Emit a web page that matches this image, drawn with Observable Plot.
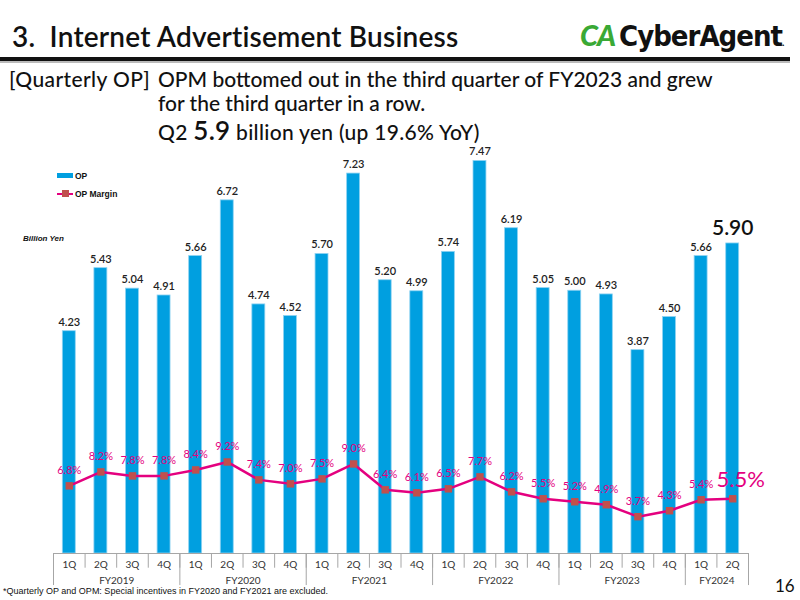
<!DOCTYPE html>
<html>
<head>
<meta charset="utf-8">
<script src="https://cdn.jsdelivr.net/npm/d3@7"></script>
<script src="https://cdn.jsdelivr.net/npm/@observablehq/plot@0.6"></script>
<style>
  html, body { margin: 0; padding: 0; background: #fff; }
  body { width: 800px; height: 600px; position: relative; overflow: hidden; font-family: Lato, "Noto Sans", sans-serif; color: #111; }
  .abs { position: absolute; white-space: nowrap; }
  #chart { position: absolute; left: 0; top: 0; }
</style>
</head>
<body>
<div class="abs" style="left:12px; top:19px; font-size:28px; font-weight:600; letter-spacing:0.2px;">3.&nbsp;&nbsp;Internet Advertisement Business</div>
<div class="abs" style="left:580px; top:17px; font-size:29px; font-weight:900; letter-spacing:-1px;">
  <span style="color:#3aa935; font-style:italic;">CA</span><span style="color:#111; margin-left:4px; font-family:'Liberation Sans Narrow','DejaVu Sans Condensed',sans-serif; font-weight:700;">CyberAgent</span><span style="font-size:10px;">.</span>
</div>
<div class="abs" style="left:0; top:57px; width:790px; height:4px; background:#111;"></div>
<div class="abs" style="left:0; top:61px; width:790px; height:2px; background:#bbb;"></div>
<div class="abs" style="left:9px; top:67px; font-size:21px; font-weight:500; letter-spacing:0.4px; line-height:24px;">[Quarterly OP]</div>
<div class="abs" style="left:158px; top:67px; font-size:21px; font-weight:500; line-height:24px; letter-spacing:0px;">OPM bottomed out in the third quarter of FY2023 and grew<br>for the third quarter in a row.</div>
<div class="abs" style="left:158px; top:120px; font-size:21px; font-weight:500; letter-spacing:0.3px; line-height:24px; height:24px;">Q2 <span style="font-size:26px; font-weight:600; line-height:20px;">5.9</span> billion yen (up 19.6% YoY)</div>
<div class="abs" style="left:23px; top:234px; font-size:8px; font-weight:700; font-style:italic; font-family:'Liberation Sans',Arial,sans-serif;">Billion Yen</div>
<div class="abs" style="left:57px; top:170px; font-size:8.5px; font-weight:700; font-family:'Liberation Sans',Arial,sans-serif;">
  <div style="position:relative; height:14px;"><span style="display:inline-block; width:16px; height:5px; background:#009FE0; vertical-align:middle;"></span><span style="vertical-align:middle; margin-left:2px;">OP</span></div>
  <div style="position:relative; height:14px; margin-top:4px;"><span style="display:inline-block; position:relative; width:16px; height:2px; background:#E4007F; vertical-align:middle;"><span style="position:absolute; left:5px; top:-3px; width:7px; height:7px; background:#C0504D;"></span></span><span style="vertical-align:middle; margin-left:2px;">OP Margin</span></div>
</div>
<div class="abs" style="left:3px; top:586px; font-size:9px; font-family:'Liberation Sans Narrow','Liberation Sans',sans-serif;">*Quarterly OP and OPM: Special incentives in FY2020 and FY2021 are excluded.</div>
<div class="abs" style="left:775px; top:575px; font-size:17px;">16</div>
<div id="chart"></div>
<script>
const quarterLabels = ["1Q","2Q","3Q","4Q","1Q","2Q","3Q","4Q","1Q","2Q","3Q","4Q","1Q","2Q","3Q","4Q","1Q","2Q","3Q","4Q","1Q","2Q"];
const fiscalYearOfQuarter = ["FY2019","FY2019","FY2019","FY2019","FY2020","FY2020","FY2020","FY2020","FY2021","FY2021","FY2021","FY2021","FY2022","FY2022","FY2022","FY2022","FY2023","FY2023","FY2023","FY2023","FY2024","FY2024"];
const fiscalYears = ["FY2019","FY2020","FY2021","FY2022","FY2023","FY2024"];
const opValues = [4.23,5.43,5.04,4.91,5.66,6.72,4.74,4.52,5.70,7.23,5.20,4.99,5.74,7.47,6.19,5.05,5.00,4.93,3.87,4.50,5.66,5.90];
const opMargins = [6.8,8.2,7.8,7.8,8.4,9.2,7.4,7.0,7.5,9.0,6.4,6.1,6.5,7.7,6.2,5.5,5.2,4.9,3.7,4.3,5.4,5.5];

const rows = opValues.map((v, i) => ({i, q: quarterLabels[i], fy: fiscalYearOfQuarter[i], op: v, opm: opMargins[i]}));
const last = rows[rows.length - 1];
const body = rows.slice(0, -1);
// secondary (margin) axis mapped onto the primary y scale
const k = 9.95 / 52.55;
const my = d => d.opm * k;
const years = fiscalYears.map(fy => {
  const idx = rows.filter(r => r.fy === fy).map(r => r.i);
  return {fy, x: d3.mean(idx), first: d3.min(idx)};
});
const pink = "#E4007F";

const chart = Plot.plot({
  width: 800, height: 600,
  marginLeft: 53, marginRight: 52, marginTop: 132.6, marginBottom: 47,
  x: {type: "linear", domain: [-0.5, 21.5], axis: null},
  y: {domain: [0, 8], axis: null},
  style: {fontFamily: "Lato, 'Noto Sans', sans-serif", background: "transparent", overflow: "visible"},
  marks: [
    Plot.rectY(rows, {x1: d => d.i - 0.205, x2: d => d.i + 0.205, y1: 0, y2: "op", fill: "#009FE0", stroke: "#8fd3f2", strokeWidth: 0.8}),
    Plot.ruleY([0], {x1: -0.5, x2: 21.5, stroke: "#a6a6a6", strokeWidth: 1}),
    Plot.ruleX(rows, {x: d => d.i - 0.5, y1: 0, y2: -0.28, stroke: "#a6a6a6"}),
    Plot.ruleX(years, {x: d => d.first - 0.5, y1: 0, y2: -0.61, stroke: "#a6a6a6"}),
    Plot.ruleX([21.5], {x: d => d, y1: 0, y2: -0.61, stroke: "#a6a6a6"}),
    Plot.text(rows, {x: "i", y: 0, text: "q", dy: 11, fontSize: 10, fill: "#333"}),
    Plot.text(years, {x: "x", y: 0, text: "fy", dy: 27, fontSize: 10, fill: "#333"}),
    Plot.text(body, {x: "i", y: "op", text: d => d.op.toFixed(2), dy: -9, fontSize: 11, fontWeight: 600, fill: "#222"}),
    Plot.text([last], {x: "i", y: "op", text: d => d.op.toFixed(2), dy: -15, fontSize: 21, fontWeight: 600, fill: "#111"}),
    Plot.line(rows, {x: "i", y: my, stroke: pink, strokeWidth: 2.5}),
    Plot.dot(rows, {x: "i", y: my, symbol: "square", r: 4.2, fill: "#C0504D", stroke: "none"}),
    Plot.text(body, {x: "i", y: my, text: d => d.opm.toFixed(1) + "%", dy: -15, fontSize: 11, fill: pink}),
    Plot.text([last], {x: "i", y: my, text: d => d.opm.toFixed(1) + "%", dx: 8, dy: -19, fontSize: 22, fill: pink})
  ]
});
document.getElementById("chart").appendChild(chart);
</script>
</body>
</html>
